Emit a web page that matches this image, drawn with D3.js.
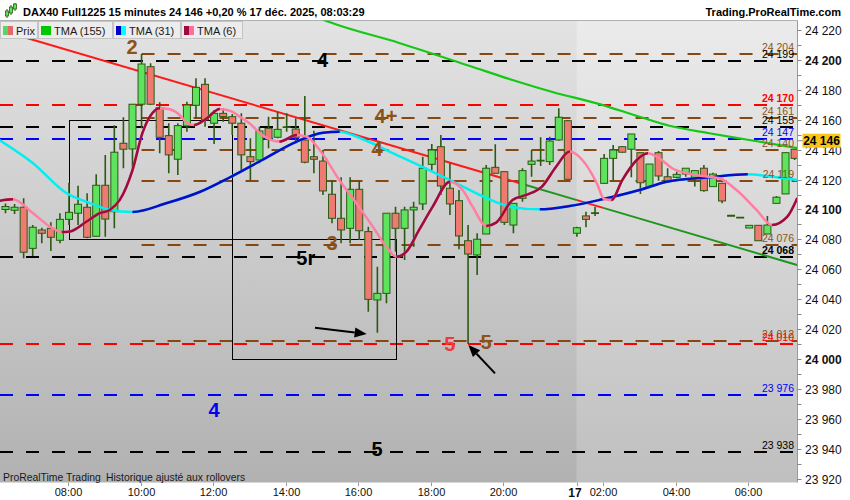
<!DOCTYPE html>
<html><head><meta charset="utf-8">
<script src="https://d3js.org/d3.v7.min.js"></script>
<style>
html,body{margin:0;padding:0;background:#fff;}
svg{display:block;font-family:"Liberation Sans",Arial,Helvetica,sans-serif;}
</style></head>
<body>
<svg id="chart" width="850" height="500"></svg>
<script>
// ---------------- DATA ----------------
const titleText = "DAX40 Full1225 15 minutes 24 146 +0,20 % 17 déc. 2025, 08:03:29";
const siteText = "Trading.ProRealTime.com";
const footText1 = "ProRealTime Trading";
const footText2 = "Historique ajusté aux rollovers";
const legendNames = ["Prix", "TMA (155)", "TMA (31)", "TMA (6)"];
const lastPrice = 24146;

// 15-minute candles (index 0 .. 87)
const open = [24100,24099.5,24101.5,24074,24086.3,24087.4,24079.4,24093.4,24097.5,24101.5,
24082.1,24116.2,24098.5,24144.3,24140.5,24170.4,24195.5,24168.1,24149.4,24133.6,
24155.9,24169.7,24183.7,24157.7,24164.3,24162.1,24157.7,24135.3,24133.1,24154.3,
24148.3,24154.8,24153.8,24146.5,24135.3,24132.4,24110.2,24094.1,24087.4,24113.5,
24085.2,24039.5,24043.9,24097.5,24087.4,24099.7,24103.7,24130.2,24142,24114.2,
24105.9,24079.1,24069.6,24083.6,24128.2,24125.3,24089.6,24107.5,24130.2,24132.4,
24132,24146.5,24159.4,24084.1,24095.7,24097.5,24117.5,24134.2,24142,24140.3,
24138,24115.3,24138,24121.9,24121.5,24123.7,24121.5,24127.6,24115.3,24117.5,
24095.8,24094.5,24087.6,24089.4,24083.6,24104.1,24110.4,24140.3];
const high = [24104,24103.7,24107.5,24089.6,24087.8,24091.4,24097.5,24117.9,24115.9,24110.8,
24123.5,24136.5,24156.3,24161.7,24170.4,24204,24197.8,24171.7,24157.7,24157.7,
24172.1,24187.8,24187.8,24166.6,24167.7,24163.9,24164.3,24147.6,24155.4,24162.1,
24165.4,24164.3,24161,24175.9,24152.7,24139.8,24119.7,24121.5,24121.5,24119.3,
24088.5,24061.7,24097.5,24101.9,24101.9,24105.2,24135.3,24143.8,24149.8,24130.9,
24113,24089.6,24084.1,24129.8,24143.6,24125.3,24104.1,24127.6,24139.8,24148.3,
24148.7,24167.7,24159.9,24088.5,24098.5,24101.9,24137.1,24143.1,24142.5,24150.5,
24138,24130.4,24139.1,24127.6,24125.3,24127.6,24126,24129.8,24124.6,24117.9,
24095.8,24094.5,24089.4,24089.4,24095.7,24109,24138,24140.3];
const low = [24097.5,24097,24067.4,24068.9,24077.4,24072.2,24077.4,24089.6,24089.6,24080.7,
24081.8,24081.8,24087.4,24127.6,24128,24154.3,24169.9,24137.6,24124.2,24123.1,
24152,24161,24155.4,24143.8,24158.7,24149.8,24126.4,24119.7,24130.9,24140.9,
24147.6,24152,24144.3,24130.9,24124.2,24109.7,24090.8,24077.4,24077.4,24079.6,
24031.6,24017.6,24037.3,24071.8,24066.2,24075.1,24099.7,24126.4,24109.7,24096.3,
24073.4,24010,24056.2,24083.6,24124.2,24089.6,24084.1,24105.2,24121.9,24129.1,
24129.8,24146,24120.2,24081.8,24088.1,24095.7,24117.1,24119.3,24138,24121.5,
24110.4,24114.2,24119.3,24117.9,24120.9,24121.9,24115.3,24111.9,24115.3,24104.1,
24095.8,24094.5,24087.6,24079.1,24083.6,24104.1,24110.4,24133.1];
const close = [24102,24101.5,24071.4,24088.1,24084.1,24081.4,24093.4,24098.1,24103.5,24081.4,
24116.2,24093.6,24138.3,24140.3,24170.4,24197.3,24170.4,24148.3,24136.5,24156.1,
24169.9,24181.7,24159.9,24164.3,24162.1,24157.7,24136.5,24132,24152.5,24147,
24153.6,24155.5,24148.3,24131.6,24133.6,24112.4,24094.1,24086.3,24113.5,24085.8,
24039.9,24043.9,24097.5,24087.4,24099.7,24101.5,24127.6,24139.8,24115.7,24103.7,
24082.3,24070.2,24080.1,24127.6,24124.2,24091.4,24104.1,24126,24132.4,24133,
24145.8,24161.7,24120.2,24087.8,24093.4,24097.5,24134.2,24139.8,24138.3,24150.5,
24117.9,24130.4,24122.4,24119.3,24123.5,24127.6,24126,24112.6,24123.7,24105.7,
24095.8,24094.5,24089.4,24079.1,24089.6,24108.2,24138,24134.2];

// moving averages as [candle index, price] points
const tma155 = [[33,24232],[35.7,24225.4],[43.4,24211.4],[51.2,24196],[55.9,24186.6],[60.3,24178.6],
[65.5,24170.5],[69.9,24162],[73.2,24156],[77.6,24151],[82,24146.5],[87.3,24141]];
const tma31 = [[-0.7,24146.5],[3,24131.1],[6.7,24111],[9.3,24104.3],[11.5,24099.7],[14,24098.3],
[17.8,24104.3],[21.4,24111.7],[24.7,24121.4],[28.3,24133.1],[32.1,24145.4],[35,24151.4],[36.8,24152],
[39.4,24147],[43.1,24136.5],[46.7,24126.4],[49,24119.7],[52.3,24109.7],[55.6,24101.9],[58.9,24100.1],
[62.2,24102.3],[65.8,24106.8],[69.9,24113],[72.9,24118.6],[77.6,24121.5],[81.8,24123.5],[84.8,24121.7],[87.3,24119.7]];
const tma6 = [[-0.7,24105.7],[0.8,24106.8],[3,24097.7],[4.9,24088.5],[6.2,24084.9],[7.1,24085.3],
[8.9,24091.8],[10.4,24097.5],[11.5,24099.7],[12.6,24106.4],[14,24126.4],[15.1,24151.2],[16.2,24164.5],
[17,24167.7],[18.1,24167],[19.2,24163.2],[20,24157.9],[20.8,24156.5],[22.2,24161],[23.6,24167.2],
[25,24165.4],[25.8,24162.1],[26.9,24157.7],[28.3,24149.8],[30.2,24145.4],[32.1,24149.8],[33.2,24148.7],
[34.9,24137.6],[36.8,24119.7],[38.7,24104.1],[40.5,24088.5],[42,24075.1],[43.1,24068.4],[44.2,24071.8],
[45.6,24086.3],[47.1,24101.9],[49,24118.6],[50.4,24113],[51.5,24101.9],[53,24089],[54.1,24091.2],
[55.9,24106.4],[57.4,24109.7],[59.2,24115.7],[60.7,24128.6],[62.2,24138.7],[63.6,24133.1],[65.2,24117.5],
[66,24107],[66.8,24106.4],[68,24119.7],[69.6,24133.1],[70.8,24137.6],[72.1,24134.2],[73.5,24127.6],
[75.1,24124.2],[76.8,24122.4],[78.7,24120.9],[80.6,24113],[82.8,24099.7],[84.5,24089.6],[86.2,24095.2],[87.3,24107.7]];

// horizontal levels
const levelValues = [24204,24199,24170,24161,24155,24147,24140,24119,24076,24068,24012,24010,23976,23938];
const levelKinds  = ["brown","black","red","brown","black","blue","brown","brown","brown","black","brown","red","blue","black"];
const levelFrom   = [15,null,null,15,null,null,15,15,15,null,15,null,null,null];
const levelBold   = [false,false,true,false,false,false,false,false,false,true,false,false,false,false];

// trend line (index, price) and its colour pieces
const trendStart = [1.5, 24216.2];
const trendEnd = [87.27, 24062.9];
const trendBreaks = [1.5, 57, 63, 65.9, 87.27];
const trendKinds = ["red","green","red","green"];

// boxes
const boxFrom = [7, 25], boxTo = [25, 43];
const boxTop = [24160, 24080], boxBottom = [24080, 24000];

// annotations
const annoText  = ["2","4","4+","4","3","5r","5","5","4","5"];
const annoIdx   = [13.95,34.95,41.95,40.96,36,33.1,49,52.98,22.99,40.96];
const annoPrice = [24208.7,24200,24162.5,24140.3,24077.5,24067.6,24010.2,24011.1,23965.9,23939.8];
const annoKinds = ["brown","black","brown","brown","brown","black","red","brown","blue","black"];

// arrows
const arrowFrom = [[34.12,24020.9],[53.97,23990.4]];
const arrowTo   = [[39.82,24016.7],[51.03,24009.4]];

// axes
const xTickIdx = [7,15,23,31,39,47,55,66,74,82];
const xTickLabels = ["08:00","10:00","12:00","14:00","16:00","18:00","20:00","02:00","04:00","06:00"];
const dayIdx = 63, dayLabel = "17";
const yTickValues = d3.range(23920, 24221, 10);

// ---------------- CHART ----------------
const svg = d3.select("#chart");
const plotL = 0, plotR = 797.5, plotT = 20.5, plotB = 482.5;
const x = d3.scaleLinear().domain([0, 87]).range([5.5, 794.6]);
const y = d3.scaleLinear().domain([23917.4, 24226.4]).range([482.5, 20.5]);

const dash = {brown:"#864810", black:"#000000", red:"#ff0000", blue:"#0000ff"};
const txt  = {brown:"#8a5520", black:"#000000", red:"#ff0000", blue:"#0000ff"};
const anno = {brown:"#8b5317", black:"#000000", red:"#ee3a3a", blue:"#0000ee"};
const trendCol = {red:"#ff1a1a", green:"#1e961e"};

const defs = svg.append("defs");
function grad(id, c1, c2){
  const g = defs.append("linearGradient").attr("id", id).attr("x1",0).attr("y1",0).attr("x2",0).attr("y2",1);
  g.append("stop").attr("offset","0%").attr("stop-color",c1);
  g.append("stop").attr("offset","100%").attr("stop-color",c2);
}
grad("gday", "#e3e3e3", "#b1b1b1");
grad("gnight", "#ebebeb", "#bfbfbf");
defs.append("clipPath").attr("id","plotclip").append("rect")
  .attr("x",plotL).attr("y",plotT).attr("width",plotR-plotL).attr("height",plotB-plotT);

svg.append("rect").attr("width",850).attr("height",500).attr("fill","#fff");
const xNight = x(dayIdx);
svg.append("rect").attr("x",plotL).attr("y",plotT).attr("width",xNight-plotL).attr("height",plotB-plotT).attr("fill","url(#gday)");
svg.append("rect").attr("x",xNight).attr("y",plotT).attr("width",plotR-xNight).attr("height",plotB-plotT).attr("fill","url(#gnight)");
svg.append("line").attr("x1",0).attr("x2",plotR).attr("y1",20.5).attr("y2",20.5).attr("stroke","#b0b0b0");

const plot = svg.append("g").attr("clip-path","url(#plotclip)");

// levels
levelValues.forEach((v,k)=>{
  const yy = Math.round(y(v));
  const x0 = levelFrom[k]===null ? 0 : x(levelFrom[k]);
  plot.append("line").attr("x1",x0).attr("x2",plotR).attr("y1",yy).attr("y2",yy)
    .attr("stroke",dash[levelKinds[k]]).attr("stroke-width",2).attr("stroke-dasharray","13,13");
});
// boxes
boxFrom.forEach((b,k)=>{
  plot.append("rect").attr("x",Math.round(x(b))+0.5).attr("y",Math.round(y(boxTop[k]))+0.5)
    .attr("width",Math.round(x(boxTo[k]))-Math.round(x(b)))
    .attr("height",Math.round(y(boxBottom[k]))-Math.round(y(boxTop[k])))
    .attr("fill","none").attr("stroke","#000").attr("stroke-width",1);
});
// trend line
const trendAt = i => trendStart[1] + (trendEnd[1]-trendStart[1])*(i-trendStart[0])/(trendEnd[0]-trendStart[0]);
for(let k=0;k<trendKinds.length;k++){
  const a = trendBreaks[k], b = trendBreaks[k+1];
  plot.append("line").attr("x1",x(a)).attr("y1",y(trendAt(a))).attr("x2",x(b)).attr("y2",y(trendAt(b)))
    .attr("stroke",trendCol[trendKinds[k]]).attr("stroke-width",2);
}

// candles
const wickCol = "#2b5a12";
d3.range(open.length).forEach(i=>{
  const cx = x(i);
  const up = close[i] >= open[i];
  if (high[i] > low[i]) {
    plot.append("line").attr("x1",cx).attr("x2",cx).attr("y1",y(high[i])).attr("y2",y(low[i]))
      .attr("stroke",wickCol).attr("stroke-width",1.6);
  }
  const top = y(Math.max(open[i],close[i])), bot = y(Math.min(open[i],close[i]));
  if (bot - top < 1.5) {
    plot.append("line").attr("x1",cx-4).attr("x2",cx+4).attr("y1",(top+bot)/2).attr("y2",(top+bot)/2)
      .attr("stroke",wickCol).attr("stroke-width",1.8);
  } else {
    plot.append("rect").attr("x",cx-3.5).attr("y",top).attr("width",7).attr("height",bot-top)
      .attr("fill", up ? "#5fe35f" : "#ef7a72").attr("stroke",wickCol).attr("stroke-width",1);
  }
});

// moving averages, coloured by direction
let clipId = 0;
function colouredCurve(pts, upCol, downCol, width){
  const gen = d3.line().x(d=>x(d[0])).y(d=>y(d[1])).curve(d3.curveMonotoneX);
  const id = "dir" + (clipId++);
  const cp = defs.append("clipPath").attr("id", id);
  for(let k=0;k<pts.length-1;k++){
    if (pts[k+1][1] > pts[k][1]) {
      cp.append("rect").attr("x",x(pts[k][0])).attr("y",0)
        .attr("width",x(pts[k+1][0])-x(pts[k][0])+0.3).attr("height",500);
    }
  }
  plot.append("path").attr("d",gen(pts)).attr("fill","none").attr("stroke",downCol).attr("stroke-width",width);
  plot.append("g").attr("clip-path",`url(#${id})`).append("path").attr("d",gen(pts))
    .attr("fill","none").attr("stroke",upCol).attr("stroke-width",width);
}
colouredCurve(tma155, "#16c816", "#16c816", 2.2);
colouredCurve(tma31, "#0c0cc8", "#00f0f0", 2.5);
colouredCurve(tma6, "#9c0c3c", "#ff7ea2", 2.5);

// annotations
annoText.forEach((t,k)=>{
  plot.append("text").attr("x",x(annoIdx[k])).attr("y",y(annoPrice[k]))
    .attr("text-anchor","middle").attr("dominant-baseline","central")
    .attr("font-size",20).attr("font-weight","bold").attr("fill",anno[annoKinds[k]]).text(t);
});
// arrows
arrowFrom.forEach((a,k)=>{
  const x1=x(a[0]), y1=y(a[1]), x2=x(arrowTo[k][0]), y2=y(arrowTo[k][1]);
  const ang = Math.atan2(y2-y1, x2-x1), L = 12, Wd = 5;
  const bx = x2 - L*Math.cos(ang), by = y2 - L*Math.sin(ang);
  plot.append("line").attr("x1",x1).attr("y1",y1).attr("x2",bx).attr("y2",by).attr("stroke","#000").attr("stroke-width",2);
  const px = -Math.sin(ang)*Wd, py = Math.cos(ang)*Wd;
  plot.append("path").attr("d",`M${x2},${y2}L${bx+px},${by+py}L${bx-px},${by-py}Z`).attr("fill","#000");
});

// level value labels
levelValues.forEach((v,k)=>{
  plot.append("text").attr("x",794).attr("y",Math.round(y(v))-3).attr("text-anchor","end")
    .attr("font-size",10.5).attr("font-weight",levelBold[k]?"bold":"normal")
    .attr("fill",txt[levelKinds[k]]).text(d3.format(",")(v).replace(",", " "));
});

// footer text in plot
svg.append("text").attr("x",3).attr("y",480.5).attr("font-size",10.4).attr("fill","#1a1a1a").text(footText1);
svg.append("text").attr("x",106).attr("y",480.5).attr("font-size",10.4).attr("fill","#1a1a1a").text(footText2);

// right axis
svg.append("line").attr("x1",plotR).attr("x2",plotR).attr("y1",plotT).attr("y2",plotB).attr("stroke","#9a9a9a");
yTickValues.forEach(v=>{
  const yy = Math.round(y(v))+0.5;
  svg.append("line").attr("x1",plotR).attr("x2",plotR+4).attr("y1",yy).attr("y2",yy).attr("stroke","#888");
  if (v % 20 === 0) {
    svg.append("text").attr("x",805).attr("y",yy+4).attr("font-size",12)
      .attr("font-weight", v % 100 === 0 ? "bold" : "normal").attr("fill","#111")
      .text(d3.format(",")(v).replace(",", " "));
  }
});
// last price tag
const yp = y(lastPrice);
svg.append("line").attr("x1",plotR).attr("x2",803).attr("y1",yp).attr("y2",yp).attr("stroke","#888");
svg.append("rect").attr("x",802.5).attr("y",yp-7).attr("width",38).attr("height",14).attr("fill","#f9c617");
svg.append("text").attr("x",821.5).attr("y",yp+4.5).attr("text-anchor","middle").attr("font-size",12)
  .attr("font-weight","bold").attr("fill","#000").text(d3.format(",")(lastPrice).replace(",", " "));

// bottom axis
xTickIdx.forEach((i,k)=>{
  const xx = Math.round(x(i))-0.5;
  svg.append("line").attr("x1",xx).attr("x2",xx).attr("y1",plotB).attr("y2",plotB+3.5).attr("stroke","#999");
  svg.append("text").attr("x",xx).attr("y",496).attr("text-anchor","middle").attr("font-size",11).attr("fill","#111").text(xTickLabels[k]);
});
svg.append("line").attr("x1",Math.round(xNight)+0.5).attr("x2",Math.round(xNight)+0.5).attr("y1",plotB).attr("y2",plotB+3.5).attr("stroke","#999");
svg.append("text").attr("x",xNight-2).attr("y",496.5).attr("text-anchor","middle").attr("font-size",12)
  .attr("font-weight","bold").attr("fill","#111").text(dayLabel);

// header
svg.append("rect").attr("x",0).attr("y",0).attr("width",850).attr("height",20).attr("fill","#fff");
const icon = svg.append("g");
[[7,9,18,11,16],[11,5,15,7,13],[15,3,11,4,9]].forEach(c=>{
  icon.append("line").attr("x1",c[0]).attr("x2",c[0]).attr("y1",c[1]).attr("y2",c[2]).attr("stroke","#2b5a12").attr("stroke-width",1);
  icon.append("rect").attr("x",c[0]-1.5).attr("y",c[3]).attr("width",3).attr("height",c[4]-c[3]).attr("fill","#5fe35f").attr("stroke","#2b5a12").attr("stroke-width",0.8);
});
svg.append("text").attr("x",23).attr("y",16).attr("font-size",11).attr("font-weight","bold").attr("fill","#000").text(titleText);
svg.append("text").attr("x",841).attr("y",16).attr("text-anchor","end").attr("font-size",11).attr("font-weight","bold").attr("fill","#000").text(siteText);

// legend tabs
const legendIcons = [["#5fd35f","#e06a6a"],["#00c800","#00c800"],["#0000cc","#00ffff"],["#9c0c3c","#ff6f9a"]];
const tabX = [0, 38, 113, 181], tabW = [37, 74, 67, 61];
legendNames.forEach((n,k)=>{
  const g = svg.append("g");
  g.append("rect").attr("x",tabX[k]+0.5).attr("y",21.5).attr("width",tabW[k]).attr("height",17)
    .attr("fill","#ececec").attr("stroke","#c4c4c4");
  g.append("rect").attr("x",tabX[k]+3).attr("y",26).attr("width",5).attr("height",9).attr("fill",legendIcons[k][0]);
  g.append("rect").attr("x",tabX[k]+8).attr("y",26).attr("width",5).attr("height",9).attr("fill",legendIcons[k][1]);
  g.append("text").attr("x",tabX[k]+16).attr("y",34.5).attr("font-size",11).attr("fill","#1a1a1a").text(n);
});
</script>
</body></html>
